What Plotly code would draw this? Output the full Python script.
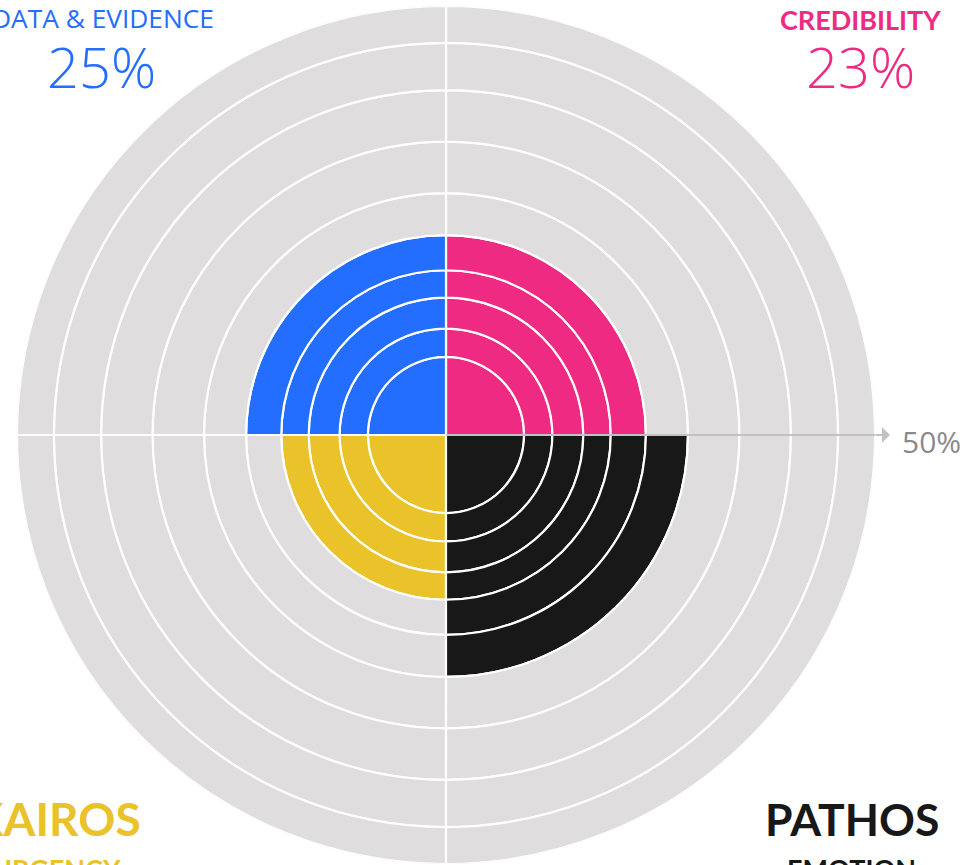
import plotly.graph_objects as go

# ---- data ----
categories = ["ETHOS", "LOGOS", "KAIROS", "PATHOS"]          # quadrants, counter-clockwise from east
quadrant_theta = [45, 135, 225, 315]
filled_rings = [5, 5, 4, 6]                                  # coloured rings per quadrant
ring_edges = [0, 9.1, 12.4, 16.0, 19.2, 23.3, 28.2, 34.2, 40.2, 45.7, 50]   # radial % boundaries
colors = ["#EE2A82", "#236EFE", "#EAC22A", "#181818"]
grey = "#DFDDDE"
axis_max_label = "50%"

fig = go.Figure()
for cat, th, n, col in zip(categories, quadrant_theta, filled_rings, colors):
    bases = ring_edges[:-1]
    widths = [ring_edges[i + 1] - ring_edges[i] for i in range(len(bases))]
    seg_colors = [col if i < n else grey for i in range(len(bases))]
    fig.add_trace(go.Barpolar(
        r=widths, base=bases, theta=[th] * len(bases), width=[90] * len(bases),
        marker=dict(color=seg_colors, line=dict(color="white", width=2.2)),
        name=cat, showlegend=False, hoverinfo="skip",
    ))

fig.update_layout(
    width=964, height=865,
    margin=dict(l=0, r=0, t=0, b=0),
    paper_bgcolor="white", plot_bgcolor="white",
    polar=dict(
        domain=dict(x=[17 / 964, 875 / 964], y=[1 / 865, 859 / 865]),
        bgcolor="white",
        radialaxis=dict(range=[0, ring_edges[-1]], angle=0, showline=True,
                        linecolor="#C2C2C2", linewidth=2, showgrid=False,
                        showticklabels=False, ticks=""),
        angularaxis=dict(visible=False, rotation=0, direction="counterclockwise"),
    ),
)

def py(px):
    return 1 - px / 865

ann = []
# arrow at end of radial axis
ann.append(dict(x=890 / 964, y=py(435), xref="paper", yref="paper", ax=-16, ay=0,
                showarrow=True, arrowhead=1, arrowsize=1.35, arrowwidth=2,
                arrowcolor="#C2C2C2", text=""))
ann.append(dict(x=900 / 964, y=py(442), xref="paper", yref="paper", xanchor="left",
                yanchor="middle", showarrow=False, text=axis_max_label,
                font=dict(family="Open Sans", size=30, color="#8A8A8A")))
# quadrant labels
ann.append(dict(x=216 / 964, y=py(18), xref="paper", yref="paper", xanchor="right",
                yanchor="middle", showarrow=False, text="DATA &amp; EVIDENCE",
                font=dict(family="Open Sans", size=26.3, color=colors[1])))
ann.append(dict(x=101 / 964, y=py(66), xref="paper", yref="paper", xanchor="center",
                yanchor="middle", showarrow=False, text="25%",
                font=dict(family="Open Sans", size=56, color=colors[1], weight=300)))
ann.append(dict(x=860 / 964, y=py(19), xref="paper", yref="paper", xanchor="center",
                yanchor="middle", showarrow=False, text="CREDIBILITY",
                font=dict(family="Lato", size=27, color=colors[0], weight="bold")))
ann.append(dict(x=860 / 964, y=py(66), xref="paper", yref="paper", xanchor="center",
                yanchor="middle", showarrow=False, text="23%",
                font=dict(family="Open Sans", size=56, color=colors[0], weight=300)))
ann.append(dict(x=143 / 964, y=py(818), xref="paper", yref="paper", xanchor="right",
                yanchor="middle", showarrow=False, text="KAIROS",
                font=dict(family="Lato", size=46, color=colors[2], weight="bold")))
ann.append(dict(x=123 / 964, y=py(868), xref="paper", yref="paper", xanchor="right",
                yanchor="middle", showarrow=False, text="URGENCY",
                font=dict(family="Lato", size=27, color=colors[2], weight="bold")))
ann.append(dict(x=852 / 964, y=py(818), xref="paper", yref="paper", xanchor="center",
                yanchor="middle", showarrow=False, text="PATHOS",
                font=dict(family="Lato", size=44.5, color=colors[3], weight="bold")))
ann.append(dict(x=851 / 964, y=py(868), xref="paper", yref="paper", xanchor="center",
                yanchor="middle", showarrow=False, text="EMOTION",
                font=dict(family="Lato", size=27, color=colors[3], weight="bold")))
fig.update_layout(annotations=ann)

fig.write_html("out.html", config={"displayModeBar": False},
               post_script="document.body.style.margin='0';document.body.style.overflow='hidden';")
